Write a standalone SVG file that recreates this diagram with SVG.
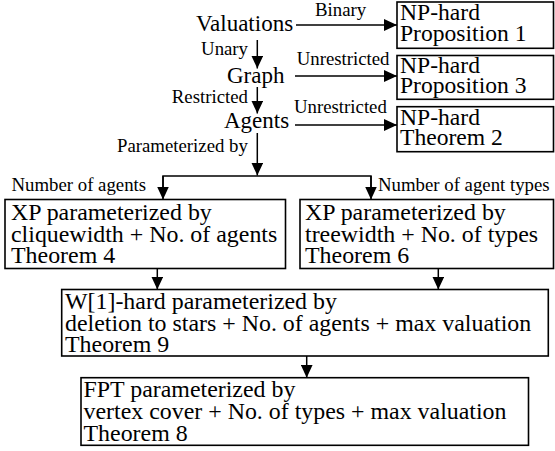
<svg xmlns="http://www.w3.org/2000/svg" width="555" height="451" viewBox="0 0 555 451" font-family="'Liberation Serif', 'Times New Roman', Times, serif">
<style>
.n{font-size:23px}
.p{font-size:23.6px}
.b{font-size:23.9px}
.l{font-size:18.8px}
.box{fill:#fff;stroke:#000;stroke-width:1.6}
.c{stroke:#000;stroke-width:1.5;fill:none}
</style>
<defs>
<marker id="ah" markerUnits="userSpaceOnUse" markerWidth="13" markerHeight="12" refX="13" refY="6" orient="auto">
<path d="M0,0 L13,6 L0,12 z" fill="#000"/>
</marker>
</defs>
<rect width="555" height="451" fill="#fff"/>
<g id="connectors">
<line class="c" x1="296" y1="25" x2="397" y2="25" marker-end="url(#ah)"/>
<line class="c" x1="295" y1="76" x2="397" y2="76" marker-end="url(#ah)"/>
<line class="c" x1="295" y1="125" x2="397" y2="125" marker-end="url(#ah)"/>
<line class="c" x1="257.3" y1="40" x2="257.3" y2="68.5" marker-end="url(#ah)"/>
<line class="c" x1="257.3" y1="87" x2="257.3" y2="113.5" marker-end="url(#ah)"/>
<line class="c" x1="257.3" y1="133" x2="257.3" y2="175.5" marker-end="url(#ah)"/>
<polyline class="c" points="163,190 163,176 371,176 371,190"/>
<line class="c" x1="163" y1="176" x2="163" y2="199.5" marker-end="url(#ah)"/>
<line class="c" x1="371" y1="176" x2="371" y2="199.5" marker-end="url(#ah)"/>
<line class="c" x1="157.3" y1="268.5" x2="157.3" y2="289.5" marker-end="url(#ah)"/>
<line class="c" x1="438.3" y1="268.5" x2="438.3" y2="289.5" marker-end="url(#ah)"/>
<line class="c" x1="306.7" y1="356" x2="306.7" y2="377.7" marker-end="url(#ah)"/>
<text class="l" x="315" y="15.5">Binary</text>
<text class="l" x="248" y="55" text-anchor="end">Unary</text>
<text class="l" x="296.7" y="65">Unrestricted</text>
<text class="l" x="248" y="103.3" text-anchor="end">Restricted</text>
<text class="l" x="294" y="113.3">Unrestricted</text>
<text class="l" x="117" y="151.7">Parameterized by</text>
<text class="l" x="11.5" y="191">Number of agents</text>
<text class="l" x="378" y="191">Number of agent types</text>
</g>
<g id="valuations"><text class="n" x="196" y="30.7">Valuations</text></g>
<g id="graph"><text class="n" x="227" y="83.3">Graph</text></g>
<g id="agents"><text class="n" x="224" y="128.3">Agents</text></g>
<g id="np1">
<rect class="box" x="397" y="2" width="156.5" height="46.3"/>
<text class="p" x="400" y="20">NP-hard</text>
<text class="p" x="400" y="40.7">Proposition 1</text>
</g>
<g id="np3">
<rect class="box" x="397" y="55.5" width="156.5" height="43.8"/>
<text class="p" x="400" y="73">NP-hard</text>
<text class="p" x="400" y="93">Proposition 3</text>
</g>
<g id="np2">
<rect class="box" x="397" y="106.7" width="156.5" height="45"/>
<text class="p" x="400" y="124.5">NP-hard</text>
<text class="p" x="400" y="144.5">Theorem 2</text>
</g>
<g id="xp-clique">
<rect class="box" x="5" y="199.5" width="280.5" height="69"/>
<text class="b" x="11" y="220">XP parameterized by</text>
<text class="b" x="11" y="241.5">cliquewidth + No. of agents</text>
<text class="b" x="11" y="263">Theorem 4</text>
</g>
<g id="xp-tree">
<rect class="box" x="300" y="199.5" width="253.5" height="69"/>
<text class="b" x="305" y="220">XP parameterized by</text>
<text class="b" x="305" y="241.5">treewidth + No. of types</text>
<text class="b" x="305" y="263">Theorem 6</text>
</g>
<g id="w1-hard">
<rect class="box" x="61.7" y="289.5" width="486.6" height="66.5"/>
<text class="b" x="65" y="308.5">W[1]-hard parameterized by</text>
<text class="b" x="65" y="330.5">deletion to stars + No. of agents + max valuation</text>
<text class="b" x="65" y="352">Theorem 9</text>
</g>
<g id="fpt">
<rect class="box" x="81" y="377.7" width="447.5" height="67.6"/>
<text class="b" x="83.5" y="397.3">FPT parameterized by</text>
<text class="b" x="83.5" y="419">vertex cover + No. of types + max valuation</text>
<text class="b" x="83.5" y="440.7">Theorem 8</text>
</g>
</svg>
